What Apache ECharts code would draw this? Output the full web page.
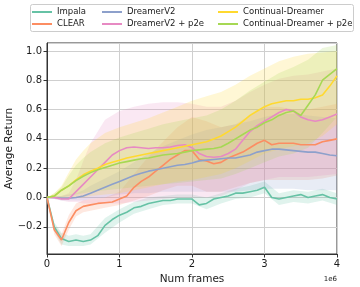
<!DOCTYPE html>
<html><head><meta charset="utf-8">
<script src="https://cdn.jsdelivr.net/npm/echarts@6/dist/echarts.min.js"></script>
<style>html,body{margin:0;padding:0;background:#fff}#c{width:360px;height:287px}</style>
</head><body><div id="c"></div>
<script>
// ---- data ----
const seriesNames = ['Impala', 'CLEAR', 'DreamerV2', 'DreamerV2 + p2e', 'Continual-Dreamer', 'Continual-Dreamer + p2e'];
const seriesColors = ['#66c2a5', '#fc8d62', '#8da0cb', '#e78ac3', '#ffd92f', '#a6d854'];
const xTicks = [0, 1, 2, 3, 4];
const yTicks = [-0.2, 0.0, 0.2, 0.4, 0.6, 0.8, 1.0];

const frames = [0,0.1,0.2,0.3,0.4,0.5,0.6,0.7,0.8,0.9,1.0,1.1,1.2,1.3,1.4,1.5,1.6,1.7,1.8,1.9,2.0,2.1,2.2,2.3,2.4,2.5,2.6,2.7,2.8,2.9,3.0,3.1,3.2,3.3,3.4,3.5,3.6,3.7,3.8,3.9,4.0];

const impalaMean = [0,-0.20,-0.28,-0.30,-0.29,-0.30,-0.29,-0.26,-0.19,-0.15,-0.12,-0.10,-0.07,-0.06,-0.04,-0.03,-0.02,-0.02,-0.01,-0.01,-0.01,-0.05,-0.04,-0.01,0.00,0.01,0.03,0.03,0.04,0.05,0.07,0.00,-0.01,0.00,0.01,0.02,0.00,0.01,0.02,0.00,-0.01];
const clearMean = [0,-0.22,-0.29,-0.17,-0.09,-0.06,-0.05,-0.04,-0.035,-0.03,-0.01,0.01,0.07,0.11,0.14,0.18,0.22,0.26,0.29,0.32,0.32,0.26,0.25,0.23,0.24,0.27,0.29,0.31,0.34,0.37,0.39,0.36,0.37,0.37,0.37,0.36,0.36,0.36,0.38,0.39,0.40];
const dreamerMean = [0,0,-0.005,-0.005,0.0,0.01,0.03,0.05,0.07,0.09,0.11,0.13,0.15,0.165,0.18,0.19,0.20,0.21,0.22,0.225,0.235,0.25,0.255,0.26,0.265,0.27,0.27,0.28,0.29,0.31,0.32,0.33,0.33,0.325,0.32,0.315,0.31,0.31,0.30,0.29,0.285];
const dreamerP2eMean = [0,0,-0.01,-0.01,0.04,0.09,0.14,0.19,0.24,0.29,0.32,0.34,0.345,0.34,0.335,0.34,0.34,0.345,0.355,0.36,0.34,0.30,0.28,0.275,0.28,0.30,0.33,0.39,0.45,0.49,0.52,0.55,0.58,0.60,0.59,0.55,0.53,0.52,0.53,0.55,0.57];
const contMean = [0,0.01,0.05,0.08,0.12,0.155,0.18,0.20,0.225,0.24,0.255,0.27,0.28,0.29,0.30,0.31,0.32,0.33,0.34,0.35,0.36,0.37,0.38,0.40,0.42,0.45,0.48,0.52,0.56,0.59,0.62,0.64,0.65,0.66,0.66,0.67,0.67,0.68,0.70,0.76,0.83];
const contP2eMean = [0,0.01,0.05,0.08,0.115,0.145,0.17,0.19,0.205,0.22,0.235,0.245,0.255,0.265,0.27,0.28,0.29,0.295,0.30,0.31,0.32,0.325,0.33,0.335,0.345,0.37,0.40,0.43,0.46,0.48,0.51,0.53,0.56,0.58,0.59,0.56,0.63,0.70,0.80,0.84,0.88];

const bandFrames = [0,0.1,0.2,0.3,0.4,0.5,0.6,0.8,1.0,1.2,1.4,1.6,1.8,2.0,2.2,2.4,2.6,2.8,3.0,3.2,3.4,3.6,3.8,4.0];
const impalaLow  = [0,-0.23,-0.32,-0.33,-0.33,-0.33,-0.32,-0.24,-0.17,-0.11,-0.08,-0.05,-0.04,-0.04,-0.08,-0.04,-0.01,0.00,0.03,-0.05,-0.03,-0.04,-0.02,-0.05];
const impalaHigh = [0,-0.17,-0.24,-0.26,-0.25,-0.26,-0.25,-0.14,-0.08,-0.03,0.00,0.01,0.02,0.02,0.00,0.03,0.06,0.08,0.11,0.03,0.05,0.04,0.06,0.03];
const clearLow   = [0,-0.25,-0.33,-0.22,-0.13,-0.10,-0.09,-0.07,-0.05,-0.02,0.01,0.05,0.08,0.08,0.04,0.04,0.07,0.10,0.12,0.12,0.12,0.12,0.13,0.15];
const clearHigh  = [0,-0.19,-0.25,-0.12,-0.04,-0.02,-0.01,0.00,0.04,0.16,0.28,0.38,0.48,0.55,0.52,0.48,0.50,0.56,0.62,0.62,0.60,0.60,0.62,0.64];
const dreamerLow  = [0,-0.01,-0.02,-0.02,-0.02,-0.02,-0.01,0.00,0.02,0.03,0.03,0.04,0.04,0.04,0.04,0.04,0.04,0.05,0.06,0.06,0.06,0.05,0.05,0.05];
const dreamerHigh = [0,0.01,0.01,0.02,0.03,0.05,0.08,0.13,0.18,0.24,0.30,0.35,0.39,0.43,0.46,0.48,0.50,0.52,0.55,0.57,0.57,0.56,0.55,0.54];
const dreamerP2eLow  = [0,-0.01,-0.02,-0.03,-0.03,-0.04,-0.04,-0.04,-0.04,-0.03,-0.02,-0.01,0.00,0.00,0.00,0.01,0.05,0.10,0.12,0.14,0.14,0.14,0.15,0.16];
const dreamerP2eHigh = [0,0.01,0.01,0.03,0.12,0.25,0.37,0.53,0.59,0.62,0.64,0.65,0.65,0.64,0.62,0.62,0.66,0.72,0.77,0.81,0.83,0.84,0.86,0.88];
const contLow  = [0,0,0,0,0,0,0.01,0.02,0.03,0.05,0.07,0.09,0.11,0.12,0.14,0.16,0.20,0.25,0.30,0.33,0.35,0.37,0.42,0.50];
const contHigh = [0,0.03,0.08,0.17,0.26,0.32,0.37,0.44,0.48,0.51,0.54,0.58,0.62,0.66,0.69,0.72,0.77,0.83,0.88,0.93,0.96,0.98,0.99,1.00];
const contP2eLow  = [0,0,0,0.01,0.02,0.03,0.04,0.05,0.06,0.07,0.08,0.09,0.10,0.11,0.12,0.13,0.16,0.20,0.24,0.28,0.30,0.34,0.44,0.55];
const contP2eHigh = [0,0.03,0.07,0.15,0.22,0.27,0.31,0.37,0.41,0.44,0.47,0.50,0.52,0.54,0.56,0.60,0.66,0.73,0.79,0.85,0.89,0.94,1.02,1.04];

// ---- chart ----
const means = [impalaMean, clearMean, dreamerMean, dreamerP2eMean, contMean, contP2eMean];
const lows  = [impalaLow, clearLow, dreamerLow, dreamerP2eLow, contLow, contP2eLow];
const highs = [impalaHigh, clearHigh, dreamerHigh, dreamerP2eHigh, contHigh, contP2eHigh];
const FONT = 'DejaVu Sans';
const TXT = '#1a1a1a';

const series = [];
seriesNames.forEach((name, i) => {
  series.push({
    type: 'line', name: name,
    data: frames.map((x, k) => [x, means[i][k]]),
    showSymbol: false, symbol: 'none',
    lineStyle: { width: 1.6, color: seriesColors[i] },
    itemStyle: { color: seriesColors[i] },
    animation: false, z: 2
  });
  const lo = lows[i], hi = highs[i];
  series.push({
    type: 'custom', name: name + ' band', silent: true, animation: false, z: 2,
    data: bandFrames.map((x, k) => [x, lo[k], hi[k]]),
    encode: { x: 0, y: [1, 2] },
    renderItem: function (params, api) {
      if (params.dataIndex !== 0) return;
      const pts = [];
      for (let k = 0; k < bandFrames.length; k++) pts.push(api.coord([bandFrames[k], hi[k]]));
      for (let k = bandFrames.length - 1; k >= 0; k--) pts.push(api.coord([bandFrames[k], lo[k]]));
      return { type: 'polygon', shape: { points: pts }, style: { fill: echarts.color.modifyAlpha(seriesColors[i], 0.2), stroke: null } };
    }
  });
});

const legendCommon = {
  orient: 'vertical', itemGap: 2, itemWidth: 20, itemHeight: 2, icon: 'rect', padding: 0,
  selectedMode: false, top: 7,
  textStyle: { fontSize: 8.5, fontFamily: FONT, color: TXT, lineHeight: 10 }
};

const chart = echarts.init(document.getElementById('c'), null, { renderer: 'canvas' });
chart.setOption({
  backgroundColor: '#ffffff',
  animation: false,
  textStyle: { fontFamily: FONT },
  grid: { left: 47, right: 23, top: 43, bottom: 33, show: true, borderColor: '#333333', borderWidth: 1, backgroundColor: 'transparent', containLabel: false, outerBoundsMode: 'none' },
  legend: [
    Object.assign({}, legendCommon, { left: 32, data: [seriesNames[0], seriesNames[1]] }),
    Object.assign({}, legendCommon, { left: 102, data: [seriesNames[2], seriesNames[3]] }),
    Object.assign({}, legendCommon, { left: 218, data: [seriesNames[4], seriesNames[5]] })
  ],
  graphic: [
    { type: 'rect', z: 1, shape: { x: 30.5, y: 4.5, width: 323, height: 27, r: 2 }, style: { fill: 'rgba(255,255,255,0.85)', stroke: '#cccccc', lineWidth: 1 } },
    { type: 'text', z: 5, x: 337, y: 279, style: { text: '1e6', align: 'right', verticalAlign: 'middle', fontSize: 7, fontFamily: FONT, fill: TXT } }
  ],
  xAxis: {
    type: 'value', min: xTicks[0], max: xTicks[xTicks.length - 1], interval: 1,
    name: 'Num frames', nameLocation: 'middle', nameGap: 15,
    nameTextStyle: { fontSize: 10.5, fontFamily: FONT, color: TXT },
    axisLine: { show: true, onZero: false, lineStyle: { color: '#333333', width: 1 } },
    axisTick: { show: true, length: 3.5, lineStyle: { color: '#333333' } },
    axisLabel: { fontSize: 10, fontFamily: FONT, color: TXT, margin: 5 },
    splitLine: { show: true, lineStyle: { color: '#cfcfcf', width: 1 } }
  },
  yAxis: {
    type: 'value', min: -0.385, max: 1.054, splitNumber: 7,
    name: 'Average Return', nameLocation: 'middle', nameGap: 32, nameMoveOverlap: false,
    nameTextStyle: { fontSize: 10.5, fontFamily: FONT, color: TXT },
    axisLine: { show: true, onZero: false, lineStyle: { color: '#333333', width: 1 } },
    axisTick: { show: true, length: 3.5, lineStyle: { color: '#333333' } },
    axisLabel: {
      fontSize: 10, fontFamily: FONT, color: TXT, margin: 5, showMinLabel: false, showMaxLabel: false,
      formatter: function (v) {
        const r = Math.round(v * 10) / 10;
        if (!yTicks.some(t => Math.abs(t - v) < 1e-6)) return '';
        return (r < 0 ? '\u2212' : '') + Math.abs(r).toFixed(1);
      }
    },
    splitLine: { show: true, lineStyle: { color: '#cfcfcf', width: 1 } }
  },
  series: series
});
</script>
</body></html>
